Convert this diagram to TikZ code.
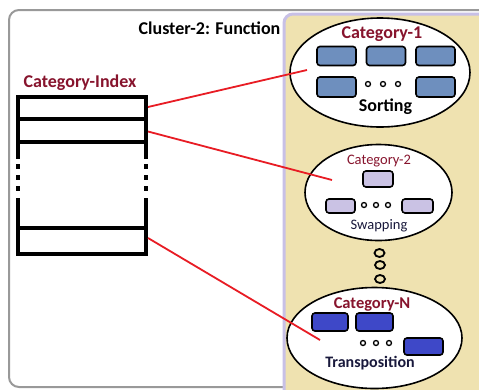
\documentclass[tikz,border=0pt]{standalone}
\usepackage{fontspec}
\setmainfont{Carlito}
\usetikzlibrary{shapes.geometric}
\definecolor{catred}{RGB}{135,20,45}
\definecolor{tanbg}{RGB}{239,226,176}
\definecolor{lavline}{RGB}{200,192,230}
\definecolor{boxone}{RGB}{110,143,190}
\definecolor{boxtwo}{RGB}{202,194,228}
\definecolor{boxthree}{RGB}{62,72,200}
\definecolor{navy}{RGB}{25,25,60}
\definecolor{linkred}{RGB}{232,28,36}
\tikzset{
  lbl/.style={anchor=base, inner sep=0pt, font=\bfseries\fontsize{18}{18}\selectfont},
  catlbl/.style={lbl, text=catred},
  item/.style={draw=black, line width=1.6pt, rounded corners=3pt, minimum width=39pt, minimum height=19pt, inner sep=0pt},
  cat/.style={ellipse, draw=black, line width=1.6pt, fill=white, inner sep=0pt},
  dotc/.style={circle, draw=black, line width=1.3pt, minimum size=5pt, inner sep=0pt},
  bigdot/.style={ellipse, draw=black, line width=1.8pt, minimum width=10pt, minimum height=8pt, inner sep=0pt},
  idx/.style={draw=black, line width=4pt, minimum width=128pt, inner sep=0pt},
  link/.style={linkred, line width=1.8pt},
}
\begin{document}
\begin{tikzpicture}[x=1pt,y=-1pt]
\useasboundingbox (0,0) rectangle (479,389);
\clip (0,0) rectangle (479,389);
\fill[white] (0,0) rectangle (479,389);
% outer frame
\draw[gray!80, line width=2pt, rounded corners=10pt] (9,10) rectangle (520,387);
% tan panel
\filldraw[fill=tanbg, draw=lavline, line width=3pt, rounded corners=9pt] (284,14) rectangle (520,400);
% title
\node[lbl] (title) at (209.5,34) {Cluster-2: Function};
\node[catlbl] (idxlbl) at (80,87) {Category-Index};
% index table
\node[idx, minimum height=22pt] (r1) at (82,108) {};
\node[idx, minimum height=23pt] (r2) at (82,130.5) {};
\node[idx, minimum height=26pt] (rn) at (82,241) {};
\draw[line width=4pt] (18,142) -- (18,159) (146,142) -- (146,159);
\draw[line width=4pt] (18,198) -- (18,228) (146,198) -- (146,228);
\foreach \yy in {166,177,188} {
  \fill (16,\yy-2.5) rectangle (20,\yy+2.5);
  \fill (144,\yy-2.5) rectangle (148,\yy+2.5);
}
% category 1
\node[cat, minimum width=180pt, minimum height=109pt] (c1) at (380,72.5) {};
\node[catlbl] (c1lbl) at (382,38) {Category-1};
\node[item, fill=boxone] (c1a) at (336.5,56) {};
\node[item, fill=boxone] (c1b) at (386,56) {};
\node[item, fill=boxone] (c1c) at (435.5,56) {};
\node[item, fill=boxone, minimum height=20pt] (c1d) at (336.5,87) {};
\node[item, fill=boxone, minimum height=20pt] (c1e) at (435.5,87) {};
\node[dotc] (c1d1) at (368,84) {};
\node[dotc] (c1d2) at (383,84) {};
\node[dotc] (c1d3) at (398,84) {};
\node[lbl] (c1txt) at (385.5,111) {Sorting};
% category 2
\node[cat, minimum width=147pt, minimum height=96pt] (c2) at (378.5,192.5) {};
\node[lbl, text=catred, font=\fontsize{14.5}{14.5}\selectfont] (c2lbl) at (379,164) {Category-2};
\node[item, fill=boxtwo, minimum width=30pt, minimum height=16pt] (c2a) at (378,179) {};
\node[item, fill=boxtwo, minimum width=29pt, minimum height=14pt] (c2b) at (340.5,206) {};
\node[item, fill=boxtwo, minimum width=31pt, minimum height=14pt] (c2c) at (417.5,206) {};
\node[dotc] (c2d1) at (364,205) {};
\node[dotc] (c2d2) at (376,205) {};
\node[dotc] (c2d3) at (388,205) {};
\node[lbl, text=navy, font=\fontsize{14.5}{14.5}\selectfont] (c2txt) at (379,229) {Swapping};
% vertical dots
\node[bigdot] (v1) at (379.5,253) {};
\node[bigdot] (v2) at (380,265) {};
\node[bigdot] (v3) at (380,279) {};
% category N
\node[cat, minimum width=175pt, minimum height=101pt] (c3) at (374.5,338) {};
\node[catlbl, font=\bfseries\fontsize{16.5}{16.5}\selectfont] (c3lbl) at (372,308) {Category-N};
\node[item, fill=boxthree, minimum width=36pt, minimum height=18pt] (c3a) at (330,322) {};
\node[item, fill=boxthree, minimum width=37pt, minimum height=18pt] (c3b) at (374.5,322) {};
\node[item, fill=boxthree, minimum width=39pt, minimum height=17pt] (c3c) at (423.5,346.5) {};
\node[dotc] (c3d1) at (363,343) {};
\node[dotc] (c3d2) at (376,343) {};
\node[dotc] (c3d3) at (389,343) {};
\node[lbl, text=navy, font=\bfseries\fontsize{16}{16}\selectfont] (c3txt) at (370,367) {Transposition};
% links
\coordinate (e1) at (307,70);
\coordinate (e2) at (332,180);
\coordinate (e3) at (320,340);
\draw[link] (r1.east) ++(0,-1) coordinate (s1) (s1) -- (e1);
\draw[link] (r2.east) ++(0,1) coordinate (s2) (s2) -- (e2);
\draw[link] (rn.east) ++(0,-3) coordinate (s3) (s3) -- (e3);
\end{tikzpicture}
\end{document}
